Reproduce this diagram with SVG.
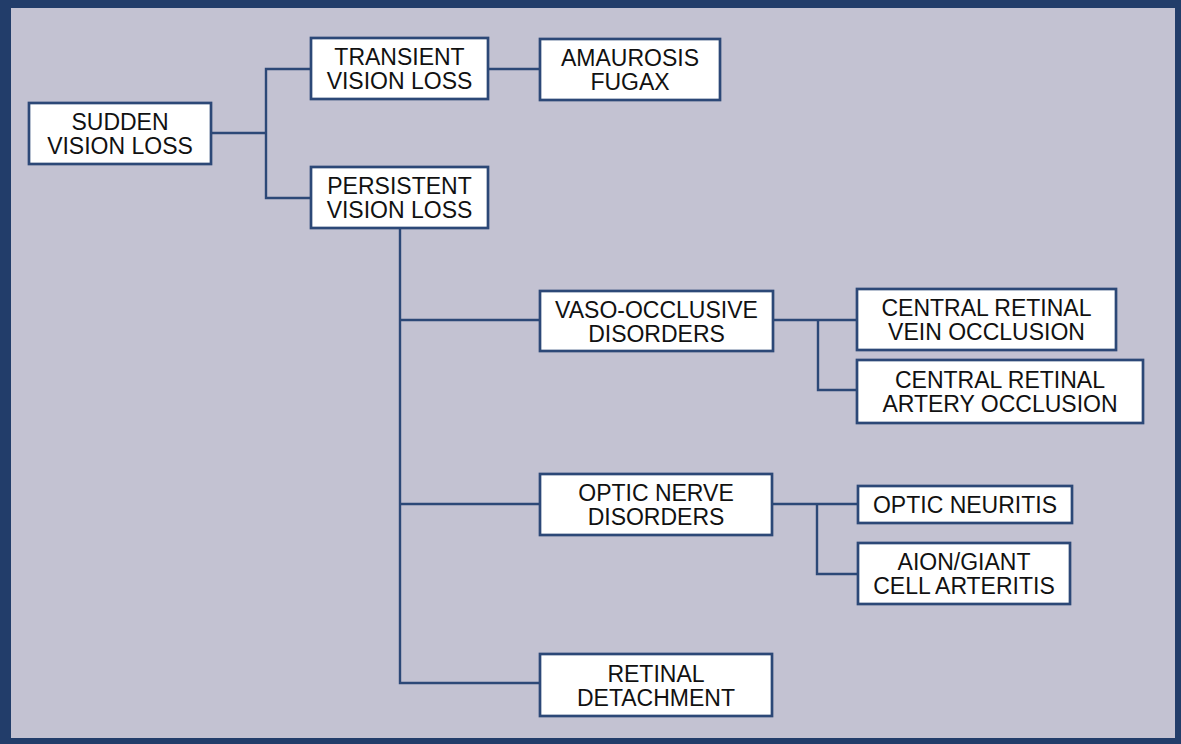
<svg xmlns="http://www.w3.org/2000/svg" width="1181" height="744" viewBox="0 0 1181 744">
<style>
.box{fill:#ffffff;stroke:#2c4877;stroke-width:2.7}
.lbl{font-family:"Liberation Sans",Arial,sans-serif;font-size:23px;fill:#111111;text-anchor:middle}
.con{fill:none;stroke:#2c4877;stroke-width:2.4}
</style>
<rect x="0" y="0" width="1181" height="744" fill="#223d6a"/>
<rect x="11" y="8" width="1164" height="730" fill="#c3c2d2"/>
<g id="connectors" class="con">
<polyline points="211,133 266,133"/>
<polyline points="311,69 266,69 266,198 311,198"/>
<polyline points="488,69 540,69"/>
<polyline points="400,228 400,683 540,683"/>
<polyline points="400,320 540,320"/>
<polyline points="400,504 540,504"/>
<polyline points="773,320 857,320"/>
<polyline points="818,320 818,390 857,390"/>
<polyline points="772,504 858,504"/>
<polyline points="817,504 817,574 858,574"/>
</g>
<g id="sudden"><rect class="box" x="29" y="103" width="182" height="61"/><text class="lbl" x="120" y="130">SUDDEN</text><text class="lbl" x="120" y="154">VISION LOSS</text></g>
<g id="transient"><rect class="box" x="311" y="38" width="177" height="61"/><text class="lbl" x="399.5" y="65">TRANSIENT</text><text class="lbl" x="399.5" y="89">VISION LOSS</text></g>
<g id="persistent"><rect class="box" x="311" y="167" width="177" height="61"/><text class="lbl" x="399.5" y="194">PERSISTENT</text><text class="lbl" x="399.5" y="218">VISION LOSS</text></g>
<g id="amaurosis"><rect class="box" x="540" y="39" width="180" height="61"/><text class="lbl" x="630" y="66">AMAUROSIS</text><text class="lbl" x="630" y="90">FUGAX</text></g>
<g id="vaso"><rect class="box" x="540" y="291" width="233" height="60"/><text class="lbl" x="656.5" y="317.5">VASO-OCCLUSIVE</text><text class="lbl" x="656.5" y="341.5">DISORDERS</text></g>
<g id="crvo"><rect class="box" x="857" y="289" width="259" height="61"/><text class="lbl" x="986.5" y="316">CENTRAL RETINAL</text><text class="lbl" x="986.5" y="340">VEIN OCCLUSION</text></g>
<g id="crao"><rect class="box" x="857" y="360" width="286" height="63"/><text class="lbl" x="1000" y="388">CENTRAL RETINAL</text><text class="lbl" x="1000" y="412">ARTERY OCCLUSION</text></g>
<g id="opticnerve"><rect class="box" x="540" y="474" width="232" height="61"/><text class="lbl" x="656" y="501">OPTIC NERVE</text><text class="lbl" x="656" y="525">DISORDERS</text></g>
<g id="neuritis"><rect class="box" x="858" y="486" width="214" height="37"/><text class="lbl" x="965" y="513">OPTIC NEURITIS</text></g>
<g id="aion"><rect class="box" x="858" y="543" width="212" height="61"/><text class="lbl" x="964" y="570">AION/GIANT</text><text class="lbl" x="964" y="594">CELL ARTERITIS</text></g>
<g id="detachment"><rect class="box" x="540" y="654" width="232" height="62"/><text class="lbl" x="656" y="681.5">RETINAL</text><text class="lbl" x="656" y="705.5">DETACHMENT</text></g>
</svg>
